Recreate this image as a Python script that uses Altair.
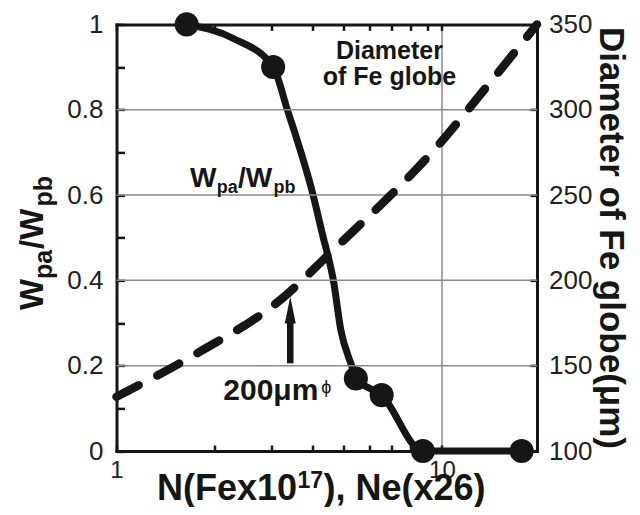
import altair as alt
import pandas as pd

# ---------------- data ----------------
curve_x = [1.643, 2.285, 3.03, 3.35, 4.02, 4.34, 4.44, 4.64, 4.89, 5.28, 5.44, 6.53, 8.74, 17.58]
curve_y = [1.0, 0.967, 0.9, 0.8, 0.6, 0.494, 0.465, 0.4, 0.284, 0.2, 0.17, 0.131, 0.0, 0.0]
point_x = [1.643, 3.03, 5.44, 6.53, 8.74, 17.58]
point_y = [1.0, 0.9, 0.17, 0.131, 0.0, 0.0]
diam_x = [1.0, 1.805, 3.14, 4.64, 9.86, 13.72, 19.6]
diam_y = [131.8, 158.2, 187.5, 217.8, 280.3, 313.4, 350.0]

x_ticks = [1, 2, 3, 4, 5, 6, 7, 8, 9, 10]
y_ticks = [0, 0.1, 0.2, 0.3, 0.4, 0.5, 0.6, 0.7, 0.8, 0.9, 1.0]
y_grid = [0.2, 0.4, 0.6, 0.8]
d_range = [100, 350]          # right-axis range (diameter, um)
d_ticks = [100, 150, 200, 250, 300, 350]

diam_label = ["Diameter", "of Fe globe"]
diam_label_x = [6.90, 6.90]
diam_label_y = [0.920, 0.858]
ratio_anchor_x = [1.682]
ratio_anchor_y = [0.619]
phi_anchor_x = [2.129]
phi_anchor_y = [0.1195]
arrow_x = [3.42]
arrow_y0 = [0.2055]
arrow_y1 = [0.31]
arrow_head_y = [0.3304]

x_title = ["N(Fex10", "17", "), Ne(x26)"]
y_title = ["W", "pa", "/W", "pb"]
d_title = "Diameter of Fe globe(\u03bcm)"

FONT = "Liberation Sans, Arial, Helvetica, sans-serif"
INK = "#161616"
GRID = "#8a8a8a"

curve = pd.DataFrame({"x": curve_x, "y": curve_y})
pts = pd.DataFrame({"x": point_x, "y": point_y})
diam = pd.DataFrame({"x": diam_x, "d": diam_y})
grid_df = pd.DataFrame({"g": y_grid})

d0, d1 = d_range
xscale = alt.Scale(type="log", domain=[1, 19.6], nice=False)
yscale = alt.Scale(domain=[0, 1], nice=False, zero=False)

common = dict(labelFont=FONT, labelColor="#222222",
              domainColor=INK, domainWidth=3, domainCap="square",
              tickColor=INK, tickWidth=2.5, labelFlush=False, labelOverlap=False,
              title=None, gridColor=GRID, gridWidth=1.5)

x_bottom = alt.Axis(orient="bottom", values=x_ticks, labelFontSize=24,
                    labelExpr="(datum.value == 1 || datum.value == 10) ? format(datum.value, 'd') : ''",
                    tickSize={"expr": "-6"}, labelPadding=13, grid=True,
                    gridOpacity={"condition": {"test": "datum.value == 10", "value": 1}, "value": 0},
                    **common)
x_top = alt.Axis(orient="top", values=x_ticks, labels=False,
                 tickSize={"expr": "-6"}, grid=False, **common)
y_left = alt.Axis(orient="left", values=y_ticks, labelFontSize=26,
                  labelExpr="round(datum.value*10) % 2 == 0 ? format(datum.value, '.1~f') : ''",
                  tickSize={"expr": "-8"}, labelPadding=21.5, grid=False, **common)
d_frac = [(v - d0) / (d1 - d0) for v in d_ticks]
y_right = alt.Axis(orient="right", values=d_frac, labelFontSize=26,
                   labelExpr=f"format({d0} + datum.value*{d1 - d0}, 'd')",
                   tickSize={"expr": "-7"},
                   tickOpacity={"condition": {"test": "datum.value > 0.05 && datum.value < 0.95", "value": 1}, "value": 0},
                   labelPadding=18.5, grid=False, **common)

X = lambda f="x": alt.X(f + ":Q", scale=xscale, axis=None)
Y = lambda f="y": alt.Y(f + ":Q", scale=yscale, axis=None)

grid = alt.Chart(grid_df).mark_rule(color=GRID, strokeWidth=1.5, opacity=1).encode(
    y=Y("g"), x=alt.value(0), x2=alt.value(420.5))

solid = alt.Chart(curve).mark_line(color=INK, strokeWidth=7, interpolate="monotone", strokeCap="round").encode(
    x=alt.X("x:Q", scale=xscale, axis=x_bottom),
    y=alt.Y("y:Q", scale=yscale, axis=y_left),
)

dashed = alt.Chart(diam).transform_calculate(
    dn=f"(datum.d - {d0}) / {d1 - d0}"
).mark_line(color=INK, strokeWidth=8.5, strokeDash=[25, 21], strokeCap="round",
            interpolate="monotone").encode(
    x=X(),
    y=alt.Y("dn:Q", scale=yscale, axis=y_right),
)

dots = alt.Chart(pts).mark_point(filled=True, shape="circle", size=580, color=INK, opacity=1).encode(
    x=alt.X("x:Q", scale=xscale, axis=x_top),
    y=Y(),
)

arrow_df = pd.DataFrame({"x": arrow_x, "y0": arrow_y0, "y1": arrow_y1, "yh": arrow_head_y})
shaft = alt.Chart(arrow_df).mark_rule(color=INK, strokeWidth=6.5).encode(
    x=X(), y=Y("y0"), y2=alt.Y2("y1"))
head = alt.Chart(arrow_df).mark_point(filled=True, shape="M0,-1L0.41,1L-0.41,1Z", size=713,
                                      color=INK, opacity=1).encode(x=X(), y=Y("yh"))

diam_df = pd.DataFrame({"x": diam_label_x, "y": diam_label_y, "t": diam_label})
diam_txt = alt.Chart(diam_df).mark_text(font=FONT, fontSize=25, fontWeight="bold", color=INK,
                                         align="center", baseline="alphabetic").encode(
    x=X(), y=Y(), text="t:N")

ratio_df = pd.DataFrame({"x": ratio_anchor_x, "y": ratio_anchor_y})
def ratio_piece(txt, dx, dy, size):
    return alt.Chart(ratio_df).mark_text(text=txt, font=FONT, fontSize=size, fontWeight="bold", color=INK,
                                         align="left", baseline="alphabetic", dx=dx, dy=dy).encode(x=X(), y=Y())
ratio_txt = [ratio_piece("W", 0, 0, 28), ratio_piece("pa", 26.7, 6, 18),
             ratio_piece("/W", 48, 0, 28), ratio_piece("pb", 83.5, 6, 18)]

phi_df = pd.DataFrame({"x": phi_anchor_x, "y": phi_anchor_y})
phi_txt = [
    alt.Chart(phi_df).mark_text(text="200\u03bcm", font=FONT, fontSize=30, fontWeight="bold", color=INK,
                                align="left", baseline="alphabetic").encode(x=X(), y=Y()),
    alt.Chart(phi_df).mark_text(text="\u03d5", font=FONT, fontSize=18, color=INK,
                                align="left", baseline="alphabetic", dx=98, dy=-7).encode(x=X(), y=Y()),
]

one = pd.DataFrame({"k": [0]})
def title_piece(txt, x, y, size, angle=0, align="left", dx=0, dy=0, weight="bold"):
    return alt.Chart(one).mark_text(text=txt, font=FONT, fontSize=size, fontWeight=weight, color=INK,
                                    align=align, baseline="alphabetic", angle=angle, dx=dx, dy=dy).encode(
        x=alt.value(x), y=alt.value(y))

titles = [
    title_piece(x_title[0], 40.5, 475.6, 36),
    title_piece(x_title[1], 181, 463.6, 23),
    title_piece(x_title[2], 207, 475.6, 36),
    title_piece(y_title[0], -73.5, 285.6, 33, angle=270, dx=0),
    title_piece(y_title[1], -73.5, 285.6, 25, angle=270, dx=31, dy=9),
    title_piece(y_title[2], -73.5, 285.6, 33, angle=270, dx=61),
    title_piece(y_title[3], -73.5, 285.6, 25, angle=270, dx=103.5, dy=9),
    title_piece(d_title, 483.5, 213.6, 35, angle=90, align="center"),
]

chart = alt.layer(solid, grid, dashed, dots, shaft, head, diam_txt, *ratio_txt, *phi_txt, *titles).properties(
    width=420.5, height=426.6,
    autosize=alt.AutoSizeParams(type="none"),
    padding={"left": 108.5, "top": 16.4, "right": 95, "bottom": 56},
    background="white",
).configure_view(stroke="transparent")

chart.save("out.html", embed_options={"renderer": "svg", "actions": False})
